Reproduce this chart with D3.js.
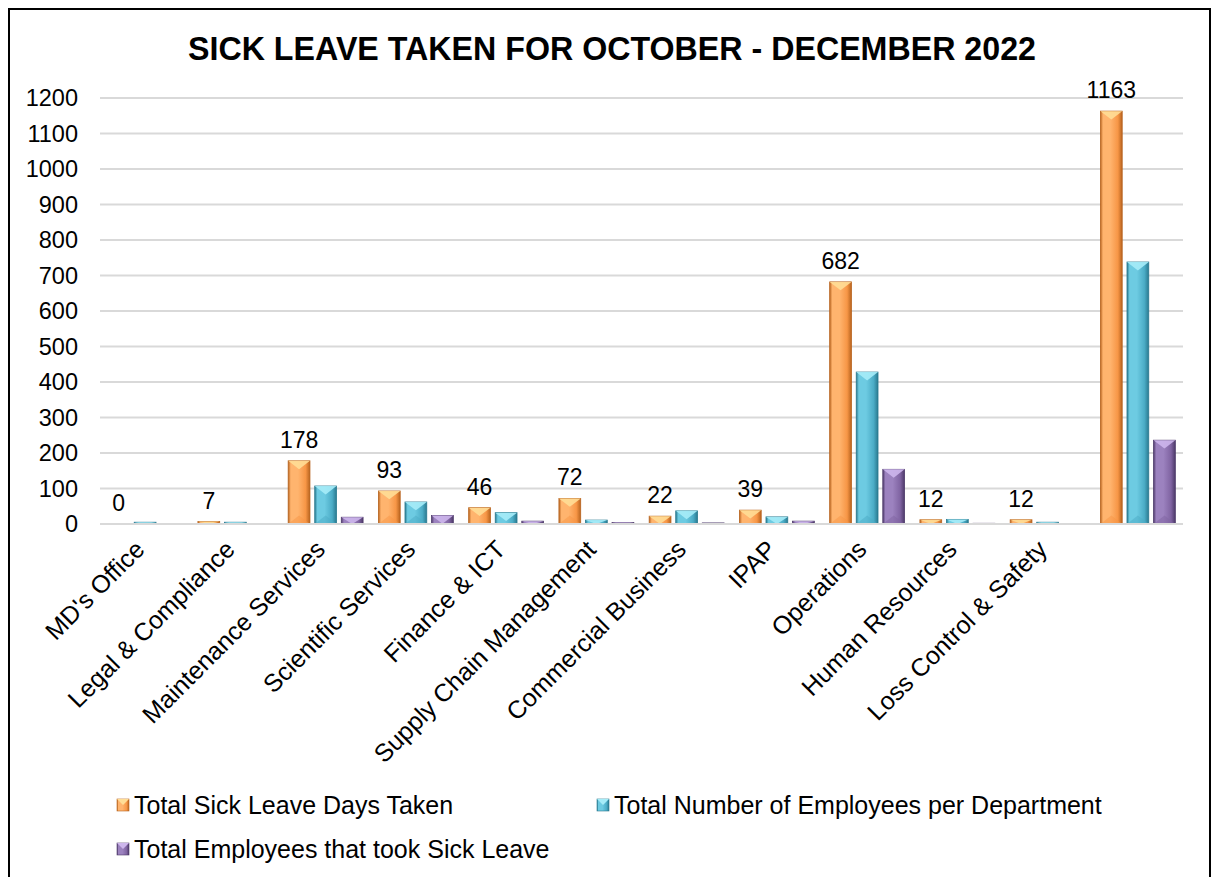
<!DOCTYPE html>
<html>
<head>
<meta charset="utf-8">
<script src="https://cdn.jsdelivr.net/npm/d3@7"></script>
<style>
  body { margin: 0; background: #fff; }
  svg { display: block; font-family: "Liberation Sans", Arial, sans-serif; }
</style>
</head>
<body>
<svg id="chart" width="1218" height="877"></svg>
<script>
// departments (last group has no label in the original)
var departments = ["MD's Office", "Legal & Compliance", "Maintenance Services", "Scientific Services",
  "Finance & ICT", "Supply Chain Management", "Commercial Business", "IPAP", "Operations",
  "Human Resources", "Loss Control & Safety", ""];

var sickDays = [0, 7, 178, 93, 46, 72, 22, 39, 682, 12, 12, 1163];
var employees = [5, 5, 107, 62, 32, 11, 37, 20, 428, 13, 5, 738];
var tookLeave = [0, 0, 19, 24, 8, 4, 3, 8, 154, 2, 0, 236];

var seriesNames = ["Total Sick Leave Days Taken", "Total Number of Employees per Department",
  "Total Employees that took Sick Leave"];
var yTicks = [0, 100, 200, 300, 400, 500, 600, 700, 800, 900, 1000, 1100, 1200];

var palette = [
  {base: "#F79646", light: "#FFB46E", top: "#FFDD96", dark: "#B8641F"},
  {base: "#4BACC6", light: "#6DCBE2", top: "#A6ECF8", dark: "#2A7A90"},
  {base: "#8064A2", light: "#9C82BF", top: "#CDB6EC", dark: "#4E3A6A"}
];

var series = [sickDays, employees, tookLeave];

var svg = d3.select('#chart');
var margin = {left: 100, right: 1183, top: 98, bottom: 524};

// frame
svg.append('path')
  .attr('d', 'M9,880 V9 H1210 V880')
  .attr('fill', 'none')
  .attr('stroke', '#000')
  .attr('stroke-width', 2);

svg.append('text')
  .attr('x', 612).attr('y', 60)
  .attr('text-anchor', 'middle')
  .attr('font-family', '"Liberation Sans Narrow", "Liberation Sans", Arial, sans-serif')
  .attr('font-size', 33)
  .attr('font-weight', 'bold')
  .attr('textLength', 848)
  .attr('lengthAdjust', 'spacingAndGlyphs')
  .text('SICK LEAVE TAKEN FOR OCTOBER - DECEMBER 2022');

var x0 = d3.scaleBand()
  .domain(d3.range(departments.length))
  .range([margin.left, margin.right])
  .paddingInner(0.17)
  .paddingOuter(0.085);

var x1 = d3.scaleBand()
  .domain([0, 1, 2])
  .range([0, x0.bandwidth()])
  .paddingInner(0.18);

var y = d3.scaleLinear()
  .domain([0, 1200])
  .range([margin.bottom, margin.top]);

// gradients
var defs = svg.append('defs');
palette.forEach(function(p, i) {
  var g = defs.append('linearGradient').attr('id', 'grad' + i)
    .attr('x1', 0).attr('x2', 1).attr('y1', 0).attr('y2', 0);
  g.append('stop').attr('offset', '0%').attr('stop-color', p.dark);
  g.append('stop').attr('offset', '12%').attr('stop-color', p.light);
  g.append('stop').attr('offset', '45%').attr('stop-color', p.light);
  g.append('stop').attr('offset', '80%').attr('stop-color', p.base);
  g.append('stop').attr('offset', '100%').attr('stop-color', p.dark);
});

// gridlines
svg.append('g').selectAll('line')
  .data(yTicks)
  .join('line')
  .attr('x1', margin.left).attr('x2', margin.right)
  .attr('y1', function(d) { return y(d); })
  .attr('y2', function(d) { return y(d); })
  .attr('stroke', '#d9d9d9')
  .attr('stroke-width', 2);

// y axis labels
svg.append('g').selectAll('text')
  .data(yTicks)
  .join('text')
  .attr('x', 78)
  .attr('y', function(d) { return y(d) + 8; })
  .attr('text-anchor', 'end')
  .attr('font-size', 23.5)
  .text(function(d) { return d; });

// bars
var groups = svg.append('g').selectAll('g')
  .data(departments)
  .join('g')
  .attr('transform', function(d, i) { return 'translate(' + x0(i) + ',0)'; });

groups.each(function(dep, gi) {
  var g = d3.select(this);
  series.forEach(function(vals, si) {
    var v = vals[gi];
    if (v <= 0) return;
    var bx = x1(si), bw = x1.bandwidth();
    var top = y(v), h = y(0) - top;
    var p = palette[si];
    g.append('rect')
      .attr('x', bx).attr('y', top)
      .attr('width', bw).attr('height', h)
      .attr('fill', 'url(#grad' + si + ')')
      .attr('stroke', p.dark)
      .attr('stroke-width', 0.8);
    var bev = Math.min(bw / 2.6, h);
    g.append('path')
      .attr('d', 'M' + bx + ',' + top + 'H' + (bx + bw) + 'L' + (bx + bw / 2) + ',' + (top + bev) + 'Z')
      .attr('fill', p.top)
      .attr('opacity', 0.9);
    if (h > bev * 2) {
      g.append('path')
        .attr('d', 'M' + bx + ',' + y(0) + 'H' + (bx + bw) + 'L' + (bx + bw / 2) + ',' + (y(0) - bev) + 'Z')
        .attr('fill', p.base)
        .attr('opacity', 0.5);
    }
  });
  // data label for sick leave days
  g.append('text')
    .attr('x', x1(0) + x1.bandwidth() / 2)
    .attr('y', y(sickDays[gi]) - 13)
    .attr('text-anchor', 'middle')
    .attr('font-size', 23)
    .text(sickDays[gi]);
});

// baseline
svg.append('line')
  .attr('x1', margin.left).attr('x2', margin.right)
  .attr('y1', y(0)).attr('y2', y(0))
  .attr('stroke', '#d9d9d9').attr('stroke-width', 2);

// category labels
svg.append('g').selectAll('text')
  .data(departments)
  .join('text')
  .attr('transform', function(d, i) {
    return 'translate(' + (x0(i) + x0.bandwidth() / 2 + 1) + ',' + 551 + ') rotate(-45)';
  })
  .attr('text-anchor', 'end')
  .attr('font-size', 25)
  .text(function(d) { return d; });

// legend
var legendPos = [[117, 814], [597, 814], [117, 858]];
var leg = svg.append('g').selectAll('g')
  .data(seriesNames)
  .join('g')
  .attr('transform', function(d, i) { return 'translate(' + legendPos[i][0] + ',' + legendPos[i][1] + ')'; });

leg.append('rect')
  .attr('x', 0).attr('y', -15)
  .attr('width', 12).attr('height', 12)
  .attr('fill', function(d, i) { return 'url(#grad' + i + ')'; })
  .attr('stroke', function(d, i) { return palette[i].dark; })
  .attr('stroke-width', 0.6);
leg.append('path')
  .attr('d', 'M0,-15H12L6,-9Z')
  .attr('fill', function(d, i) { return palette[i].top; });
leg.append('text')
  .attr('x', 17).attr('y', 0)
  .attr('font-size', 25)
  .text(function(d) { return d; });
</script>
</body>
</html>
